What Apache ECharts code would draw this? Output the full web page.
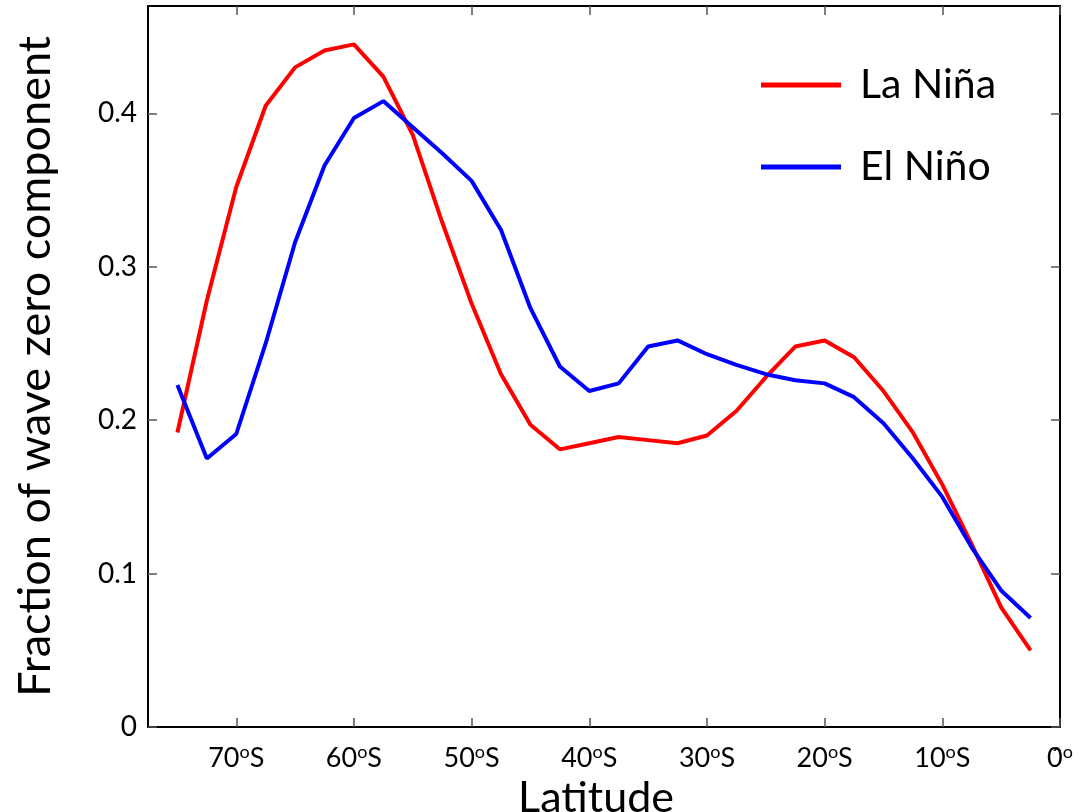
<!DOCTYPE html>
<html>
<head>
<meta charset="utf-8">
<script src="https://cdn.jsdelivr.net/npm/echarts@6/dist/echarts.min.js"></script>
<style>
  html, body { margin: 0; padding: 0; background: #fff; }
  #chart { width: 1083px; height: 812px; }
</style>
</head>
<body>
<div id="chart"></div>
<script>
// latitude (negative = south), every 2.5 degrees
const latitudes = [-75, -72.5, -70, -67.5, -65, -62.5, -60, -57.5, -55, -52.5,
  -50, -47.5, -45, -42.5, -40, -37.5, -35, -32.5, -30, -27.5,
  -25, -22.5, -20, -17.5, -15, -12.5, -10, -7.5, -5, -2.5]

const laNina = [0.192, 0.278, 0.352, 0.405, 0.430, 0.441, 0.445, 0.424, 0.386, 0.329,
  0.276, 0.230, 0.197, 0.181, 0.185, 0.189, 0.187, 0.185, 0.190, 0.206,
  0.228, 0.248, 0.252, 0.241, 0.219, 0.192, 0.158, 0.119, 0.078, 0.050]

const elNino = [0.223, 0.175, 0.191, 0.250, 0.316, 0.366, 0.397, 0.408, 0.391, 0.374,
  0.356, 0.324, 0.273, 0.235, 0.219, 0.224, 0.248, 0.252, 0.243, 0.236,
  0.230, 0.226, 0.224, 0.215, 0.198, 0.175, 0.150, 0.117, 0.089, 0.071]

const xTicks = [-70, -60, -50, -40, -30, -20, -10, 0]
const yTicks = [0, 0.1, 0.2, 0.3, 0.4]

const pair = arr => latitudes.map((x, i) => [x, arr[i]])

const tickStyle = { show: true, inside: true, length: 9, lineStyle: { color: '#555', width: 1.5 } }
const axisLineStyle = { show: true, onZero: false, lineStyle: { color: '#000', width: 2 } }

const chart = echarts.init(document.getElementById('chart'))
chart.setOption({
  animation: false,
  backgroundColor: '#fff',
  grid: { left: 148, right: 23, top: 6, bottom: 85, outerBoundsMode: 'none', containLabel: false },
  legend: {
    orient: 'vertical',
    left: 756,
    top: 55,
    icon: 'rect',
    itemWidth: 80,
    itemHeight: 5,
    itemGap: 32,
    textStyle: { fontFamily: 'Lato', fontSize: 41, color: '#000', padding: [0, 0, 0, 14], lineHeight: 50 },
    data: ['La Niña', 'El Niño']
  },
  xAxis: [
    {
      type: 'value',
      min: -77.5,
      max: 0,
      name: 'Latitude',
      nameLocation: 'middle',
      nameGap: 46,
      nameTextStyle: { fontFamily: 'Lato', fontSize: 43, color: '#000', padding: [0, 16, 0, 0] },
      axisLine: axisLineStyle,
      axisTick: Object.assign({ customValues: xTicks }, tickStyle),
      splitLine: { show: false },
      axisLabel: {
        customValues: xTicks,
        margin: 16,
        formatter: v => v === 0 ? '{n|0\u0302}{s|o}' : '{n|' + Math.abs(v) + '}{s|o}{n|S}',
        rich: {
          n: { fontFamily: 'Lato, DejaVu Sans', fontSize: 27, color: '#000', lineHeight: 30 },
          s: { fontFamily: 'Lato', fontSize: 18, color: '#000', verticalAlign: 'top', lineHeight: 30, padding: [0, 0, 8, 0] }
        }
      }
    },
    {
      type: 'value',
      position: 'top',
      min: -77.5,
      max: 0,
      axisLine: axisLineStyle,
      axisTick: Object.assign({ customValues: xTicks }, tickStyle),
      axisLabel: { show: false },
      splitLine: { show: false }
    }
  ],
  yAxis: [
    {
      type: 'value',
      min: 0,
      max: 0.47,
      name: 'Fraction of wave zero component',
      nameLocation: 'middle',
      nameGap: 90,
      nameTextStyle: { fontFamily: 'Lato', fontSize: 45, color: '#000' },
      axisLine: axisLineStyle,
      axisTick: Object.assign({ customValues: yTicks }, tickStyle),
      splitLine: { show: false },
      axisLabel: {
        customValues: yTicks,
        margin: 11,
        fontFamily: 'Lato',
        fontSize: 28,
        color: '#000',
        padding: [10, 0, 0, 0],
        formatter: v => v === 0 ? '0' : v.toFixed(1)
      }
    },
    {
      type: 'value',
      position: 'right',
      min: 0,
      max: 0.47,
      axisLine: axisLineStyle,
      axisTick: Object.assign({ customValues: yTicks }, tickStyle),
      axisLabel: { show: false },
      splitLine: { show: false }
    }
  ],
  series: [
    {
      name: 'La Niña',
      type: 'line',
      data: pair(laNina),
      showSymbol: false,
      symbol: 'none',
      color: '#ff0000',
      lineStyle: { color: '#ff0000', width: 4 }
    },
    {
      name: 'El Niño',
      type: 'line',
      data: pair(elNino),
      showSymbol: false,
      symbol: 'none',
      color: '#0000ff',
      lineStyle: { color: '#0000ff', width: 4 }
    }
  ]
})
</script>
</body>
</html>
